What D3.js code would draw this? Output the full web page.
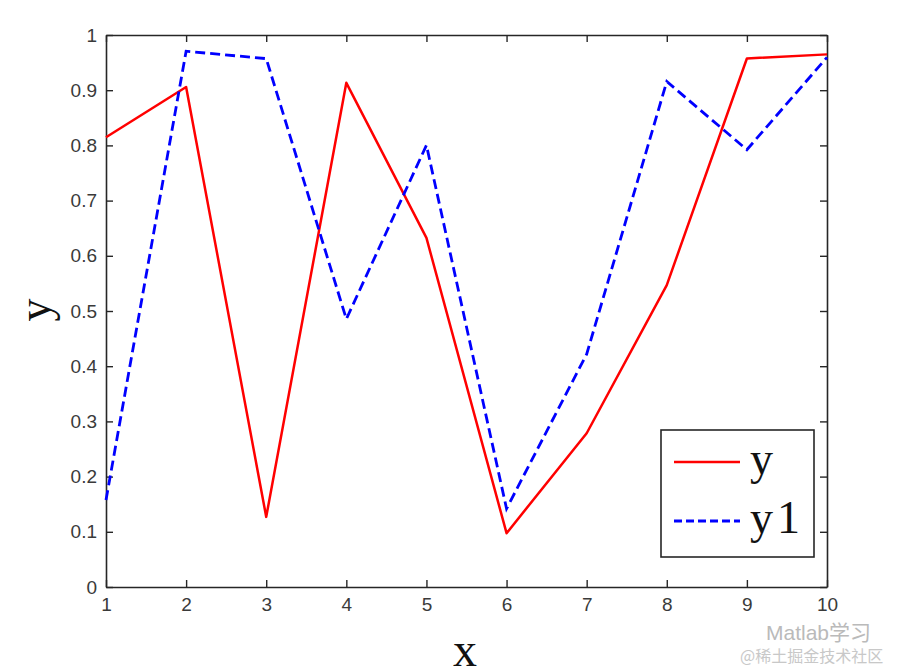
<!DOCTYPE html>
<html><head><meta charset="utf-8">
<script src="https://cdn.jsdelivr.net/npm/d3@7"></script>
<style>body{margin:0;background:#fff;}svg{display:block;}</style>
</head><body>
<svg id="c" width="903" height="667"></svg>
<script>
const xs = [1,2,3,4,5,6,7,8,9,10];
const yVals = [0.8147,0.9058,0.1270,0.9134,0.6324,0.0975,0.2785,0.5469,0.9575,0.9649];
const y1Vals = [0.1576,0.9706,0.9572,0.4854,0.8003,0.1419,0.4218,0.9157,0.7922,0.9595];
const xTicks = [1,2,3,4,5,6,7,8,9,10];
const yTicks = [0,0.1,0.2,0.3,0.4,0.5,0.6,0.7,0.8,0.9,1];
const seriesNames = ["y","y1"];

const svg = d3.select("#c");
const L=106, R=827, T=35, B=587;
const x = d3.scaleLinear().domain([1,10]).range([L,R]);
const y = d3.scaleLinear().domain([0,1]).range([B,T]);

const fmt = d => (d===0||d===1) ? String(d) : d3.format(".1f")(d);
const tl = 7;
const gB = svg.append("g").attr("transform",`translate(0,${B})`)
  .call(d3.axisBottom(x).tickValues(xTicks).tickSizeInner(-tl).tickSizeOuter(0).tickPadding(12).tickFormat(d3.format("d")));
const gT = svg.append("g").attr("transform",`translate(0,${T})`)
  .call(d3.axisTop(x).tickValues(xTicks).tickSizeInner(-tl).tickSizeOuter(0).tickFormat(""));
const gL = svg.append("g").attr("transform",`translate(${L},0)`)
  .call(d3.axisLeft(y).tickValues(yTicks).tickSizeInner(-tl).tickSizeOuter(0).tickPadding(9).tickFormat(fmt));
const gR = svg.append("g").attr("transform",`translate(${R},0)`)
  .call(d3.axisRight(y).tickValues(yTicks).tickSizeInner(-tl).tickSizeOuter(0).tickFormat(""));
[gB,gT,gL,gR].forEach(g=>{
  g.select(".domain").attr("stroke","#262626").attr("stroke-width",1.6);
  g.selectAll(".tick line").attr("stroke","#262626").attr("stroke-width",1.4);
  g.selectAll("text").attr("font-family","'Liberation Sans',Arial,sans-serif").attr("font-size",19).attr("fill","#3a3a3a");
});
gB.selectAll("text").attr("dy","0.62em");

const line = d3.line().x((d,i)=>x(xs[i])).y(d=>y(d));
const plot = svg.append("g");
plot.append("path").datum(yVals).attr("d",line).attr("fill","none")
  .attr("stroke","#ff0000").attr("stroke-width",2.5).attr("stroke-linejoin","round");
plot.append("path").datum(y1Vals).attr("d",line).attr("fill","none")
  .attr("stroke","#0000ff").attr("stroke-width",2.8).attr("stroke-dasharray","10,5");

// axis labels
svg.append("text").attr("x",465).attr("y",666).attr("text-anchor","middle")
  .attr("font-family","'Liberation Serif','Times New Roman',serif").attr("font-size",48).attr("fill","#111").text("x");
svg.append("text").attr("transform","translate(50,310) rotate(-90)").attr("text-anchor","middle")
  .attr("font-family","'Liberation Serif','Times New Roman',serif").attr("font-size",46).attr("fill","#111").text("y");

// legend
const lg = svg.append("g");
lg.append("rect").attr("x",661).attr("y",430).attr("width",153).attr("height",127)
  .attr("fill","#fff").attr("stroke","#262626").attr("stroke-width",1.6);
const legY = [462,521];
const legStyles = [{c:"#ff0000",w:2.6,da:null},{c:"#0000ff",w:2.8,da:"8,4"}];
seriesNames.forEach((n,i)=>{
  lg.append("line").attr("x1",674).attr("x2",740).attr("y1",legY[i]).attr("y2",legY[i])
    .attr("stroke",legStyles[i].c).attr("stroke-width",legStyles[i].w).attr("stroke-dasharray",legStyles[i].da);
  lg.append("text").attr("x",750).attr("y",legY[i]+12).attr("font-family","'Liberation Serif','Times New Roman',serif")
    .attr("font-size",46).attr("fill","#111").attr("letter-spacing", i===1?"4px":"0").text(n);
});

// watermark
svg.append("text").attr("x",766).attr("y",640).attr("font-family","'Liberation Sans',Arial,'Noto Sans CJK SC',sans-serif")
  .attr("font-size",21).attr("fill","#aaa").attr("opacity",0.8).text("Matlab学习");
svg.append("text").attr("x",740).attr("y",662).attr("font-family","'Noto Sans CJK SC',sans-serif")
  .attr("font-size",16).attr("fill","#bbb").attr("opacity",0.8).text("@稀土掘金技术社区");
</script>
</body></html>
